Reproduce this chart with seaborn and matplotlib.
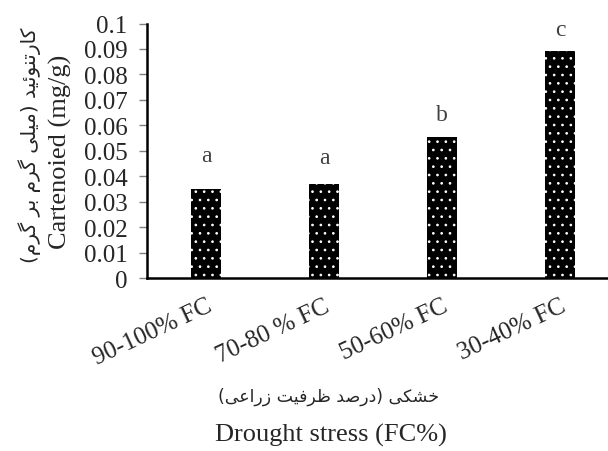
import matplotlib
matplotlib.use('Agg')
import matplotlib.pyplot as plt
import seaborn as sns
import pandas as pd

# data
treatments = ['90-100% FC', '70-80 % FC', '50-60% FC', '30-40% FC']
carotenoid = [0.035, 0.037, 0.0555, 0.089]
letters = ['a', 'a', 'b', 'c']
letter_offsets = [24, 19, 16, 16]
y_ticks = [0, 0.01, 0.02, 0.03, 0.04, 0.05, 0.06, 0.07, 0.08, 0.09, 0.1]
y_tick_labels = ['0', '0.01', '0.02', '0.03', '0.04', '0.05', '0.06', '0.07', '0.08', '0.09', '0.1']

y_label_fa = 'کارتنوئید (میلی گرم بر گرم)'
y_label_en = 'Cartenoied (mg/g)'
x_label_fa = 'خشکی (درصد ظرفیت زراعی)'
x_label_en = 'Drought stress (FC%)'

# minimal Persian shaping (matplotlib has no bidi / joining)
FORMS = {
    'ا': ('\uFE8D', '\uFE8E', None, None),
    'ب': ('\uFE8F', '\uFE90', '\uFE91', '\uFE92'),
    'ت': ('\uFE95', '\uFE96', '\uFE97', '\uFE98'),
    'خ': ('\uFEA5', '\uFEA6', '\uFEA7', '\uFEA8'),
    'د': ('\uFEA9', '\uFEAA', None, None),
    'ر': ('\uFEAD', '\uFEAE', None, None),
    'ز': ('\uFEAF', '\uFEB0', None, None),
    'ش': ('\uFEB5', '\uFEB6', '\uFEB7', '\uFEB8'),
    'ص': ('\uFEB9', '\uFEBA', '\uFEBB', '\uFEBC'),
    'ظ': ('\uFEC5', '\uFEC6', '\uFEC7', '\uFEC8'),
    'ع': ('\uFEC9', '\uFECA', '\uFECB', '\uFECC'),
    'ف': ('\uFED1', '\uFED2', '\uFED3', '\uFED4'),
    'ل': ('\uFEDD', '\uFEDE', '\uFEDF', '\uFEE0'),
    'م': ('\uFEE1', '\uFEE2', '\uFEE3', '\uFEE4'),
    'ن': ('\uFEE5', '\uFEE6', '\uFEE7', '\uFEE8'),
    'و': ('\uFEED', '\uFEEE', None, None),
    'ئ': ('\uFE89', '\uFE8A', '\uFE8B', '\uFE8C'),
    'ی': ('\uFBFC', '\uFBFD', '\uFBFE', '\uFBFF'),
    'ک': ('\uFB8E', '\uFB8F', '\uFB90', '\uFB91'),
    'گ': ('\uFB92', '\uFB93', '\uFB94', '\uFB95'),
}


def shape(text):
    out = []
    for i, ch in enumerate(text):
        if ch not in FORMS:
            out.append(ch)
            continue
        prev = text[i - 1] if i > 0 else ''
        nxt = text[i + 1] if i + 1 < len(text) else ''
        jp = prev in FORMS and FORMS[prev][2] is not None
        jn = nxt in FORMS and FORMS[ch][2] is not None
        iso, fin, ini, med = FORMS[ch]
        if jp and jn:
            out.append(med)
        elif jp:
            out.append(fin)
        elif jn:
            out.append(ini)
        else:
            out.append(iso)
    mirror = {'(': ')', ')': '('}
    return ''.join(mirror.get(c, c) for c in reversed(out))


sns.set_style('white')
plt.rcParams['font.family'] = ['Liberation Serif', 'DejaVu Sans']
plt.rcParams['hatch.color'] = 'white'
plt.rcParams['hatch.linewidth'] = 0.7

df = pd.DataFrame({'treatment': treatments, 'carotenoid': carotenoid})

fig = plt.figure(figsize=(6.08, 4.52), dpi=100)
ax = fig.add_axes([147 / 608, 173 / 452, 472 / 608, 254.5 / 452])

sns.barplot(data=df, x='treatment', y='carotenoid', color='black',
            saturation=1, width=0.26, ax=ax)

for p in ax.patches:
    p.set_hatch('..')
    p.set_edgecolor('white')
    p.set_linewidth(0)

for i, (v, t) in enumerate(zip(carotenoid, letters)):
    ax.annotate(t, (i, v), xytext=(0, letter_offsets[i]),
                textcoords='offset points', ha='center', va='center',
                fontsize=17, color='#404040')

ax.set_ylim(0, 0.1)
ax.set_xlim(-0.5, 3.5)
ax.set_yticks(y_ticks)
ax.set_yticklabels(y_tick_labels, fontsize=18)
ax.set_xticks(range(len(treatments)))
ax.set_xticklabels(treatments, fontsize=18, rotation=25, ha='right',
                   rotation_mode='anchor')
ax.tick_params(axis='y', length=6, width=1, color='#7f7f7f', pad=8, left=True)
ax.tick_params(axis='x', length=0, pad=12)
ax.set_xlabel('')
ax.set_ylabel('')
for s in ['top', 'right']:
    ax.spines[s].set_visible(False)
for s in ['left', 'bottom']:
    ax.spines[s].set_color('black')
    ax.spines[s].set_linewidth(1.8)

fig.text(60 / 608, 1 - 152 / 452, y_label_en, rotation=90, ha='center',
         va='center', fontsize=19)
fig.text(30 / 608, 1 - 145 / 452, shape(y_label_fa), rotation=90,
         ha='center', va='center', fontsize=14.5,
         family=['DejaVu Sans', 'Liberation Serif'])
fig.text(329 / 608, 1 - 397 / 452, shape(x_label_fa), ha='center',
         va='center', fontsize=12.5, family=['DejaVu Sans', 'Liberation Serif'])
fig.text(331 / 608, 1 - 435 / 452, x_label_en, ha='center', va='center',
         fontsize=19)

fig.savefig('out.png', dpi=100)
